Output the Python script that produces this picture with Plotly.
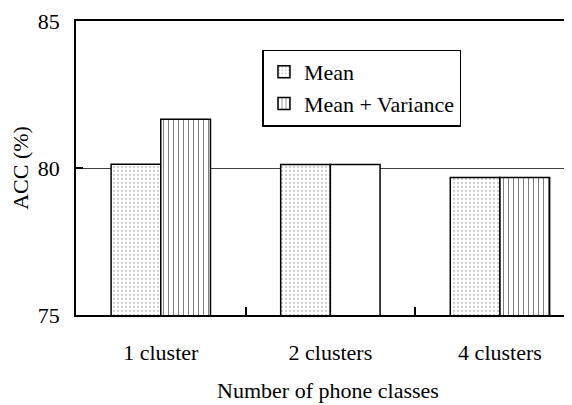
import plotly.graph_objects as go

# data
categories = ["1 cluster", "2 clusters", "4 clusters"]
mean_acc = [80.13, 80.12, 79.68]
mean_var_acc = [81.66, 80.12, 79.68]
mean_var_shapes = ["|", "", "|"]  # middle bar drawn without hatch in the original

FONT = "Liberation Serif"

fig = go.Figure()

fig.add_trace(go.Bar(
    name="Mean",
    x=categories,
    y=mean_acc,
    marker=dict(
        color="white",
        line=dict(color="black", width=1.5),
        pattern=dict(shape=".", fgcolor="#9a9a9a", bgcolor="white",
                     size=4, solidity=0.25),
    ),
))

fig.add_trace(go.Bar(
    name="Mean + Variance",
    x=categories,
    y=mean_var_acc,
    marker=dict(
        color="white",
        line=dict(color="black", width=1.5),
        pattern=dict(shape=mean_var_shapes, fgcolor="black", bgcolor="white",
                     size=5, solidity=0.2),
    ),
))

# the page body adds ~8px around the figure, margins account for it;
# the plot area runs past the right edge of the window like in the original
fig.update_layout(
    width=572,
    height=405,
    margin=dict(l=68, r=0, t=13, b=98),
    paper_bgcolor="white",
    plot_bgcolor="white",
    font=dict(family=FONT, size=22, color="black"),
    barmode="group",
    bargap=0.414,
    bargroupgap=0,
    showlegend=True,
    legend=dict(
        x=0.37, y=0.903, xanchor="left", yanchor="top",
        bgcolor="white", bordercolor="black", borderwidth=1.5,
        font=dict(family=FONT, size=22),
        itemwidth=30,
        tracegroupgap=0,
    ),
)

fig.update_xaxes(
    type="category",
    range=[-0.5, 2.472],
    automargin=False,
    showline=True, linecolor="black", linewidth=1.5, mirror=True,
    ticks="inside", tickson="boundaries", ticklen=8, tickcolor="black", tickwidth=1.5,
    showgrid=False,
    tickfont=dict(family=FONT, size=22),
    ticklabelstandoff=17,
    title=dict(text="Number of phone classes", standoff=18,
               font=dict(family=FONT, size=22)),
)

fig.update_yaxes(
    range=[75, 85],
    tickvals=[75, 80, 85],
    automargin=False,
    showline=True, linecolor="black", linewidth=1.5,
    ticks="inside", ticklen=7, tickcolor="black", tickwidth=1.5,
    showgrid=True, gridcolor="#404040", gridwidth=1,
    zeroline=False,
    tickfont=dict(family=FONT, size=22),
    ticklabelstandoff=10,
    title=dict(text="ACC (%)", standoff=4, font=dict(family=FONT, size=22)),
)

fig.write_html("out.html")
